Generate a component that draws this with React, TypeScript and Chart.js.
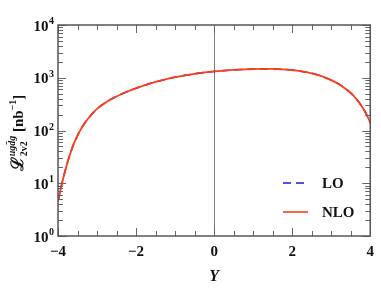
import React, { useEffect, useRef } from "react";
import { Chart, registerables } from "chart.js";

Chart.register(...registerables);

// ---- data ----
const rapidity = [-4, -3.9, -3.8, -3.7, -3.6, -3.5, -3.4, -3.3, -3.2, -3.1, -3, -2.75, -2.5, -2.25, -2, -1.75, -1.5, -1.25, -1, -0.75, -0.5, -0.25, 0, 0.25, 0.5, 0.75, 1, 1.25, 1.5, 1.75, 2, 2.25, 2.5, 2.75, 3, 3.25, 3.5, 3.6, 3.7, 3.8, 3.9, 4];
const loValues = [4.47, 9.8, 19.1, 33.9, 55, 80.4, 110, 143, 178, 216, 257, 351, 442, 537, 631, 733, 832, 933, 1023, 1109, 1189, 1259, 1318, 1365, 1406, 1439, 1462, 1472, 1469, 1445, 1396, 1318, 1216, 1072, 902, 716, 513, 432, 351, 275, 204, 141];
const nloValues = [4.47, 9.8, 19.1, 33.9, 55, 80.4, 110, 143, 178, 216, 257, 351, 442, 537, 631, 733, 832, 933, 1023, 1109, 1189, 1259, 1318, 1365, 1406, 1439, 1462, 1472, 1469, 1445, 1396, 1318, 1216, 1072, 902, 716, 513, 432, 351, 275, 204, 141];
const seriesLabels = ["LO", "NLO"];
const xTickValues = [-4, -2, 0, 2, 4];
const yDecadeExponents = [0, 1, 2, 3, 4];

const SERIF = "'Liberation Serif', 'DejaVu Serif', serif";
const LO_COLOR = "#1a1adf";
const NLO_COLOR = "#ff3c14";

const pts = (vals: number[]) => rapidity.map((x, i) => ({ x, y: vals[i] }));

const decorPlugin = {
  id: "decor",
  beforeDatasetsDraw(chart: any) {
    const { ctx, chartArea: a, scales } = chart;
    const x0 = scales.x.getPixelForValue(0);
    ctx.save();
    ctx.strokeStyle = "#808080";
    ctx.lineWidth = 1;
    ctx.beginPath();
    ctx.moveTo(Math.round(x0) + 0.5, a.top);
    ctx.lineTo(Math.round(x0) + 0.5, a.bottom);
    ctx.stroke();
    ctx.restore();
  },
  afterDatasetsDraw(chart: any) {
    const { ctx, chartArea: a, scales } = chart;
    const xs = scales.x;
    const ys = scales.y;
    ctx.save();
    ctx.strokeStyle = "#666";
    ctx.lineWidth = 1;
    const seg = (x1: number, y1: number, x2: number, y2: number) => {
      ctx.beginPath();
      ctx.moveTo(x1, y1);
      ctx.lineTo(x2, y2);
      ctx.stroke();
    };
    // x ticks (inward, top & bottom)
    for (let k = -8; k <= 8; k++) {
      const v = k / 2;
      const px = Math.round(xs.getPixelForValue(v)) + 0.5;
      const len = k % 4 === 0 ? 8 : 5;
      seg(px, a.bottom, px, a.bottom - len);
      seg(px, a.top, px, a.top + len);
    }
    // y ticks (inward, left & right)
    for (let e = 0; e <= 4; e++) {
      for (let m = 1; m <= 9; m++) {
        if (e === 4 && m > 1) break;
        const v = m * Math.pow(10, e);
        const py = Math.round(ys.getPixelForValue(v)) + 0.5;
        const len = m === 1 ? 8 : 5;
        seg(a.left, py, a.left + len, py);
        seg(a.right, py, a.right - len, py);
      }
    }
    // frame
    ctx.strokeStyle = "#555";
    ctx.lineWidth = 1.5;
    ctx.strokeRect(a.left, a.top, a.right - a.left, a.bottom - a.top);

    // y tick labels: 10^n
    ctx.fillStyle = "#111";
    ctx.textBaseline = "alphabetic";
    yDecadeExponents.forEach((e) => {
      const py = ys.getPixelForValue(Math.pow(10, e));
      ctx.font = `bold 10px ${SERIF}`;
      const supW = ctx.measureText(String(e)).width;
      const right = a.left - 4;
      ctx.textAlign = "left";
      ctx.fillText(String(e), right - supW, py - 1);
      ctx.font = `bold 15px ${SERIF}`;
      ctx.textAlign = "right";
      ctx.fillText("10", right - supW - 0.5, py + 5.5);
    });

    // x title
    ctx.font = `italic bold 16px ${SERIF}`;
    ctx.textAlign = "center";
    ctx.textBaseline = "middle";
    ctx.fillText("Y", xs.getPixelForValue(0), 277);

    // y title (rotated)
    ctx.save();
    ctx.translate(18, 133);
    ctx.rotate(-Math.PI / 2);
    ctx.textBaseline = "alphabetic";
    ctx.textAlign = "left";
    const bigL = `bold 17px ${SERIF}`;
    const small = `bold 10px ${SERIF}`;
    const smallIt = `italic bold 10px ${SERIF}`;
    const main = `bold 15px ${SERIF}`;
    ctx.font = bigL;
    const wL = ctx.measureText("ℒ").width;
    ctx.font = smallIt;
    const wSup = ctx.measureText("ugd̄g").width;
    ctx.font = small;
    const wSub = ctx.measureText("2v2").width;
    const wScript = Math.max(wSup, wSub);
    ctx.font = main;
    const wOpen = ctx.measureText(" [nb").width;
    ctx.font = small;
    const wM1 = ctx.measureText("−1").width;
    ctx.font = main;
    const wClose = ctx.measureText("]").width;
    const total = wL + 1 + wScript + wOpen + wM1 + wClose;
    let cx = -total / 2;
    const base = 5;
    ctx.font = bigL;
    ctx.fillText("ℒ", cx, base);
    cx += wL + 1;
    ctx.font = smallIt;
    ctx.fillText("ugd̄g", cx, base - 8);
    ctx.font = small;
    ctx.fillText("2v2", cx, base + 4);
    cx += wScript;
    ctx.font = main;
    ctx.fillText(" [nb", cx, base);
    cx += wOpen;
    ctx.font = small;
    ctx.fillText("−1", cx, base - 7);
    cx += wM1;
    ctx.font = main;
    ctx.fillText("]", cx, base);
    ctx.restore();

    // legend (bottom right, inside plot)
    const legendRows = [183, 212];
    chart.data.datasets.forEach((ds: any, i: number) => {
      const ly = legendRows[i];
      ctx.save();
      ctx.strokeStyle = ds.borderColor;
      ctx.lineWidth = 1.6;
      ctx.setLineDash(ds.borderDash || []);
      ctx.beginPath();
      ctx.moveTo(283, ly);
      ctx.lineTo(308, ly);
      ctx.stroke();
      ctx.restore();
      ctx.fillStyle = "#111";
      ctx.font = `bold 15px ${SERIF}`;
      ctx.textAlign = "left";
      ctx.textBaseline = "middle";
      ctx.fillText(ds.label, 322, ly + 1);
    });
    ctx.restore();
  },
};

export default function App() {
  const canvasRef = useRef<HTMLCanvasElement | null>(null);

  useEffect(() => {
    if (!canvasRef.current) return;
    const chart = new Chart(canvasRef.current, {
      type: "line",
      data: {
        datasets: [
          {
            label: seriesLabels[0],
            data: pts(loValues),
            borderColor: LO_COLOR,
            borderDash: [8, 5],
            borderWidth: 1.6,
            pointRadius: 0,
            cubicInterpolationMode: "monotone",
            fill: false,
            order: 2,
          },
          {
            label: seriesLabels[1],
            data: pts(nloValues),
            borderColor: NLO_COLOR,
            borderWidth: 1.8,
            pointRadius: 0,
            cubicInterpolationMode: "monotone",
            fill: false,
            order: 1,
          },
        ],
      },
      options: {
        animation: false,
        responsive: false,
        devicePixelRatio: 1,
        layout: { padding: { top: 25, right: 7, left: 0, bottom: 0 } },
        plugins: { legend: { display: false }, tooltip: { enabled: false } },
        scales: {
          x: {
            type: "linear",
            min: -4,
            max: 4,
            grid: { display: false, drawTicks: false },
            border: { display: false },
            ticks: {
              color: "#111",
              font: { family: SERIF, size: 15, weight: "bold" },
              padding: 7,
              maxRotation: 0,
              autoSkip: false,
              callback: (v: any) => (Number(v) < 0 ? "−" + Math.abs(Number(v)) : String(v)),
            },
            afterBuildTicks: (s: any) => {
              s.ticks = xTickValues.map((v) => ({ value: v }));
            },
            afterFit: (s: any) => {
              s.height = 53;
            },
          },
          y: {
            type: "logarithmic",
            min: 1,
            max: 10000,
            grid: { display: false, drawTicks: false },
            border: { display: false },
            ticks: { display: false },
            afterFit: (s: any) => {
              s.width = 58;
            },
          },
        },
      } as any,
      plugins: [decorPlugin],
    });
    return () => chart.destroy();
  }, []);

  return (
    <div style={{ position: "absolute", left: 0, top: 0, width: 381, height: 289, background: "#fff" }}>
      <canvas ref={canvasRef} width={381} height={289} style={{ display: "block" }} />
    </div>
  );
}
